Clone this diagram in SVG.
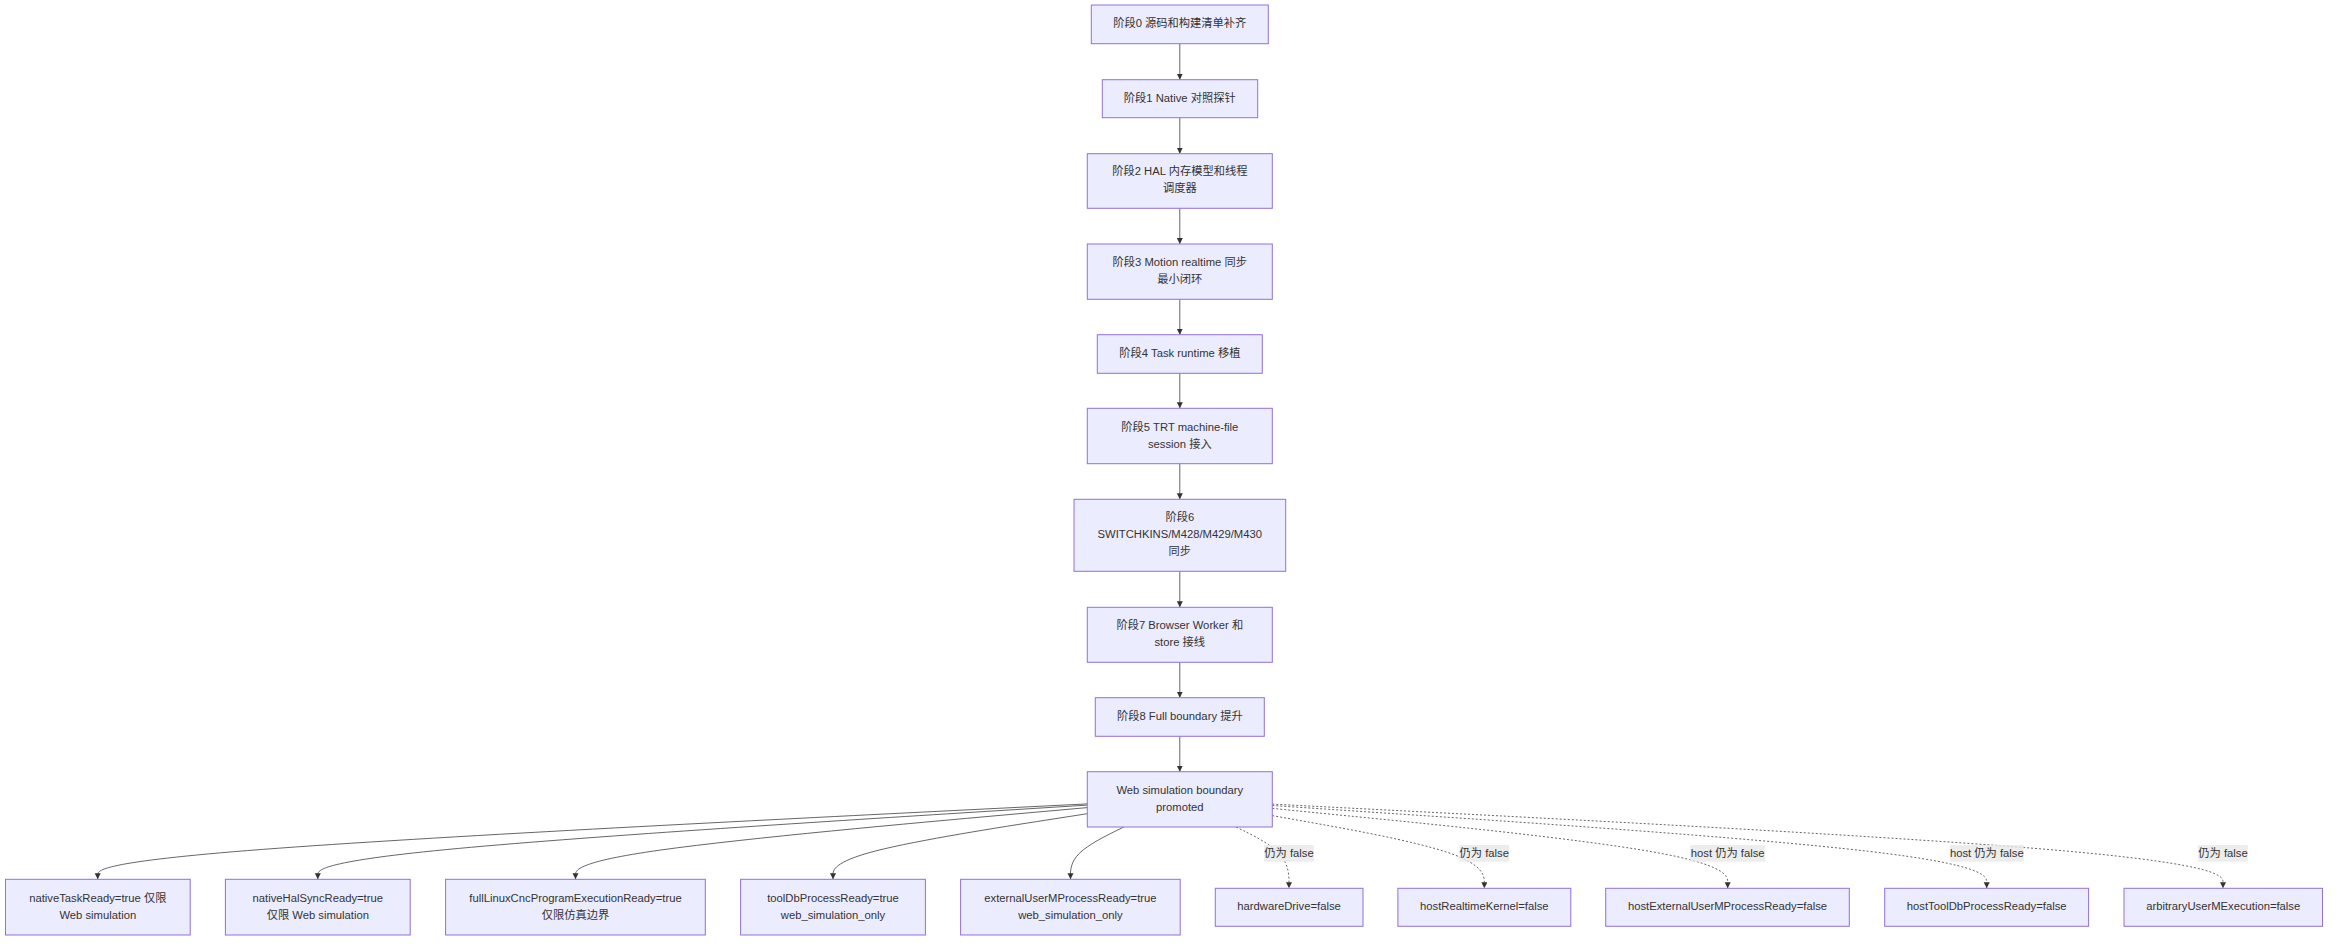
<svg xmlns="http://www.w3.org/2000/svg" width="2352" height="951" viewBox="0 0 2352 951">
<defs>
<style>
.node rect{fill:#ECECFF;stroke:#9370DB;stroke-width:1}
text{font-family:"Liberation Sans",Arial,"Noto Sans CJK SC",sans-serif;font-size:11.25px;fill:#333;text-anchor:middle;dominant-baseline:central}
.edge{fill:none;stroke:#555;stroke-width:0.9}
.dot{stroke-dasharray:2 2}
.lbl rect{fill:#e8e8e8;fill-opacity:0.8}
</style>
<marker id="arr" markerUnits="userSpaceOnUse" markerWidth="7" markerHeight="7" refX="6" refY="3" orient="auto">
<path d="M0,0 L6,3 L0,6 z" fill="#333"/>
</marker>
</defs>
<rect width="2352" height="951" fill="#fff"/>
<g id="connectors">
<path class="edge" marker-end="url(#arr)" d="M1179.8,43.7 L1179.8,79.7"/>
<path class="edge" marker-end="url(#arr)" d="M1179.8,117.7 L1179.8,153.7"/>
<path class="edge" marker-end="url(#arr)" d="M1179.8,208.3 L1179.8,244"/>
<path class="edge" marker-end="url(#arr)" d="M1179.8,299.3 L1179.8,334.7"/>
<path class="edge" marker-end="url(#arr)" d="M1179.8,373.3 L1179.8,408.3"/>
<path class="edge" marker-end="url(#arr)" d="M1179.8,463.7 L1179.8,499.3"/>
<path class="edge" marker-end="url(#arr)" d="M1179.8,571.3 L1179.8,607.3"/>
<path class="edge" marker-end="url(#arr)" d="M1179.8,662.3 L1179.8,697.7"/>
<path class="edge" marker-end="url(#arr)" d="M1179.8,736.3 L1179.8,771.7"/>
<path class="edge" marker-end="url(#arr)" d="M1087.3,803.9 L922.4,812.1 C757.4,820.4 427.6,836.8 262.6,849.4 C97.7,862 97.7,870.6 97.7,875 L97.7,879.3"/>
<path class="edge" marker-end="url(#arr)" d="M1087.3,805.1 L959.1,813.1 C830.8,821.2 574.3,837.2 446.1,849.6 C317.8,862 317.8,870.6 317.8,875 L317.8,879.3"/>
<path class="edge" marker-end="url(#arr)" d="M1087.3,807.6 L1002,815.2 C916.7,822.8 746.1,838.1 660.8,850 C575.5,862 575.5,870.6 575.5,875 L575.5,879.3"/>
<path class="edge" marker-end="url(#arr)" d="M1087.3,813.7 L1044.9,820.3 C1002.5,826.9 917.8,840.1 875.4,851 C833,862 833,870.6 833,875 L833,879.3"/>
<path class="edge" marker-end="url(#arr)" d="M1123.8,827 L1114.9,831.4 C1106,835.8 1088.3,844.5 1079.4,853.3 C1070.5,862 1070.5,870.6 1070.5,875 L1070.5,879.3"/>
<path class="edge dot" marker-end="url(#arr)" d="M1236.2,827 L1245,831.4 C1253.8,835.8 1271.4,844.5 1280.2,854.8 C1289,865 1289,876.6 1289,882.5 L1289,888.3"/>
<path class="edge dot" marker-end="url(#arr)" d="M1272.3,815.6 L1307.6,821.9 C1343,828.2 1413.6,840.7 1449,852.9 C1484.3,865 1484.3,876.6 1484.3,882.5 L1484.3,888.3"/>
<path class="edge dot" marker-end="url(#arr)" d="M1272.3,808.4 L1348.2,815.9 C1424.1,823.4 1575.9,838.3 1651.8,851.7 C1727.7,865 1727.7,876.6 1727.7,882.5 L1727.7,888.3"/>
<path class="edge dot" marker-end="url(#arr)" d="M1272.3,805.5 L1391.4,813.5 C1510.4,821.4 1748.6,837.4 1867.6,851.2 C1986.7,865 1986.7,876.6 1986.7,882.5 L1986.7,888.3"/>
<path class="edge dot" marker-end="url(#arr)" d="M1272.3,804.1 L1430.8,812.3 C1589.2,820.5 1906.1,836.9 2064.6,850.9 C2223,865 2223,876.6 2223,882.5 L2223,888.3"/>
<g class="lbl"><rect x="1264.2" y="845" width="49.6" height="16.7"/><text x="1289" y="852.8">仍为 false</text></g>
<g class="lbl"><rect x="1459.5" y="845" width="49.6" height="16.7"/><text x="1484.3" y="852.8">仍为 false</text></g>
<g class="lbl"><rect x="1690.2" y="845" width="75" height="16.7"/><text x="1727.7" y="852.8">host 仍为 false</text></g>
<g class="lbl"><rect x="1949.8" y="845" width="74" height="16.7"/><text x="1986.8" y="852.8">host 仍为 false</text></g>
<g class="lbl"><rect x="2198.2" y="845" width="49.6" height="16.7"/><text x="2223" y="852.8">仍为 false</text></g>
</g>
<g id="s0" class="node"><rect x="1091.3" y="5" width="177" height="38.7"/><text x="1179.8" y="23.4">阶段0 源码和构建清单补齐</text></g>
<g id="s1" class="node"><rect x="1102.3" y="79.7" width="155.4" height="38"/><text x="1179.8" y="97.6">阶段1 Native 对照探针</text></g>
<g id="s2" class="node"><rect x="1087.3" y="153.7" width="185" height="54.6"/><text x="1179.8" y="170.7">阶段2 HAL 内存模型和线程</text><text x="1179.8" y="187.7">调度器</text></g>
<g id="s3" class="node"><rect x="1087.3" y="244" width="185" height="55.3"/><text x="1179.8" y="262.3">阶段3 Motion realtime 同步</text><text x="1179.8" y="279.3">最小闭环</text></g>
<g id="s4" class="node"><rect x="1097.3" y="334.7" width="165" height="38.6"/><text x="1179.8" y="353">阶段4 Task runtime 移植</text></g>
<g id="s5" class="node"><rect x="1087.3" y="408.3" width="185" height="55.4"/><text x="1179.8" y="427.3">阶段5 TRT machine-file</text><text x="1179.8" y="444.3">session 接入</text></g>
<g id="s6" class="node"><rect x="1074" y="499.3" width="211.7" height="72"/><text x="1179.8" y="517">阶段6</text><text x="1179.8" y="534">SWITCHKINS/M428/M429/M430</text><text x="1179.8" y="551">同步</text></g>
<g id="s7" class="node"><rect x="1087.3" y="607.3" width="185" height="55"/><text x="1179.8" y="625.3">阶段7 Browser Worker 和</text><text x="1179.8" y="642.3">store 接线</text></g>
<g id="s8" class="node"><rect x="1095.3" y="697.7" width="169" height="38.6"/><text x="1179.8" y="716.3">阶段8 Full boundary 提升</text></g>
<g id="boundary" class="node"><rect x="1087.3" y="771.7" width="185" height="55.3"/><text x="1179.8" y="790.3">Web simulation boundary</text><text x="1179.8" y="807.3">promoted</text></g>
<g id="nativeTask" class="node"><rect x="5.5" y="879.3" width="184.7" height="55.7"/><text x="97.8" y="898.4">nativeTaskReady=true 仅限</text><text x="97.8" y="915.4">Web simulation</text></g>
<g id="nativeHal" class="node"><rect x="225.4" y="879.3" width="184.8" height="55.7"/><text x="317.8" y="898.4">nativeHalSyncReady=true</text><text x="317.8" y="915.4">仅限 Web simulation</text></g>
<g id="fullLinux" class="node"><rect x="445.6" y="879.3" width="259.7" height="55.7"/><text x="575.5" y="898.4">fullLinuxCncProgramExecutionReady=true</text><text x="575.5" y="915.4">仅限仿真边界</text></g>
<g id="toolDb" class="node"><rect x="740.6" y="879.3" width="184.8" height="55.7"/><text x="833" y="898.4">toolDbProcessReady=true</text><text x="833" y="915.4">web_simulation_only</text></g>
<g id="externalUserM" class="node"><rect x="960.6" y="879.3" width="219.6" height="55.7"/><text x="1070.4" y="898.4">externalUserMProcessReady=true</text><text x="1070.4" y="915.4">web_simulation_only</text></g>
<g id="hardwareDrive" class="node"><rect x="1215.3" y="888.3" width="147.7" height="38"/><text x="1289.1" y="906.4">hardwareDrive=false</text></g>
<g id="hostRealtime" class="node"><rect x="1397.9" y="888.3" width="172.9" height="38"/><text x="1484.3" y="906.4">hostRealtimeKernel=false</text></g>
<g id="hostExternal" class="node"><rect x="1605.7" y="888.3" width="243.6" height="38"/><text x="1727.5" y="906.4">hostExternalUserMProcessReady=false</text></g>
<g id="hostToolDb" class="node"><rect x="1884.7" y="888.3" width="203.9" height="38"/><text x="1986.7" y="906.4">hostToolDbProcessReady=false</text></g>
<g id="arbitrary" class="node"><rect x="2124" y="888.3" width="198.5" height="38"/><text x="2223.2" y="906.4">arbitraryUserMExecution=false</text></g>
</svg>
